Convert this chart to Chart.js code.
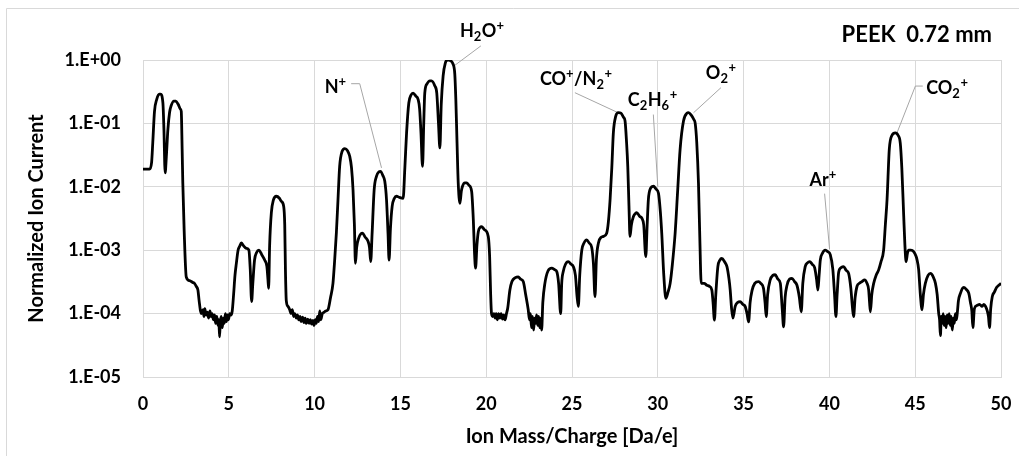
<!DOCTYPE html>
<html>
<head>
<meta charset="utf-8">
<title>PEEK 0.72 mm</title>
<script src="https://cdn.jsdelivr.net/npm/chart.js@4.4.0/dist/chart.umd.min.js"></script>
<style>
  html, body { margin: 0; padding: 0; background: #fff; }
  #wrap { width: 1019px; height: 456px; position: relative; }
</style>
</head>
<body>
<div id="wrap"><canvas id="spectrum" width="1019" height="456"></canvas></div>
<script>
// mass/charge [Da/e] and normalized ion current
const massCharge = [
  0.00, 0.38, 0.50, 0.57, 0.67, 0.80, 0.95, 1.02, 1.16, 1.22, 1.29, 1.36, 1.45, 1.55, 1.64, 1.80, 1.90, 2.05, 2.17, 2.23,
  2.28, 2.32, 2.40, 2.52, 2.71, 2.90, 3.00, 3.10, 3.20, 3.27, 3.34, 3.40, 3.50, 3.55, 3.60, 3.68, 3.75, 3.82, 3.90, 3.97,
  4.03, 4.10, 4.17, 4.23, 4.30, 4.37, 4.42, 4.46, 4.50, 4.56, 4.62, 4.68, 4.74, 4.80, 4.86, 4.92, 4.98, 5.05, 5.12, 5.20,
  5.28, 5.36, 5.44, 5.54, 5.63, 5.73, 5.85, 6.02, 6.17, 6.25, 6.33, 6.40, 6.50, 6.62, 6.76, 6.92, 7.09, 7.22, 7.28, 7.32,
  7.38, 7.48, 7.60, 7.77, 7.95, 8.06, 8.20, 8.26, 8.30, 8.35, 8.45, 8.55, 8.62, 8.70, 8.78, 8.85, 8.93, 9.00, 9.08, 9.15,
  9.22, 9.30, 9.38, 9.45, 9.52, 9.60, 9.68, 9.75, 9.83, 9.90, 9.97, 10.04, 10.10, 10.17, 10.24, 10.30, 10.36, 10.45, 10.55, 10.65,
  10.78, 10.93, 11.07, 11.17, 11.27, 11.36, 11.46, 11.60, 11.76, 11.92, 12.05, 12.15, 12.24, 12.32, 12.38, 12.45, 12.57, 12.70, 12.79, 12.95,
  13.12, 13.20, 13.27, 13.35, 13.47, 13.60, 13.75, 13.84, 13.98, 14.09, 14.19, 14.28, 14.34, 14.42, 14.52, 14.65, 14.77, 14.95, 15.16, 15.26,
  15.36, 15.49, 15.62, 15.74, 15.90, 16.03, 16.12, 16.20, 16.29, 16.36, 16.42, 16.55, 16.72, 16.81, 17.01, 17.12, 17.22, 17.30, 17.38, 17.49,
  17.62, 17.75, 17.85, 18.08, 18.17, 18.23, 18.30, 18.37, 18.47, 18.55, 18.62, 18.75, 18.86, 19.00, 19.15, 19.25, 19.32, 19.38, 19.46, 19.54,
  19.65, 19.73, 19.90, 20.12, 20.20, 20.26, 20.31, 20.38, 20.45, 20.52, 20.58, 20.65, 20.72, 20.80, 20.87, 20.95, 21.02, 21.10, 21.18, 21.25,
  21.38, 21.50, 21.70, 21.87, 22.00, 22.16, 22.30, 22.45, 22.52, 22.58, 22.64, 22.70, 22.76, 22.82, 22.88, 22.94, 23.00, 23.06, 23.12, 23.18,
  23.23, 23.30, 23.42, 23.60, 23.82, 24.00, 24.11, 24.22, 24.34, 24.40, 24.49, 24.62, 24.78, 24.95, 25.08, 25.20, 25.30, 25.37, 25.45, 25.57,
  25.70, 25.86, 26.00, 26.15, 26.25, 26.34, 26.42, 26.54, 26.70, 26.83, 27.02, 27.12, 27.22, 27.32, 27.41, 27.55, 27.70, 27.85, 28.00, 28.09,
  28.18, 28.25, 28.32, 28.38, 28.46, 28.58, 28.70, 28.77, 28.95, 29.07, 29.18, 29.30, 29.38, 29.45, 29.58, 29.74, 29.90, 30.04, 30.15, 30.23,
  30.35, 30.47, 30.60, 30.72, 30.85, 31.01, 31.15, 31.30, 31.50, 31.70, 31.79, 31.95, 32.10, 32.18, 32.27, 32.37, 32.45, 32.53, 32.70, 32.86,
  33.00, 33.15, 33.22, 33.30, 33.38, 33.50, 33.62, 33.73, 33.90, 34.03, 34.15, 34.22, 34.30, 34.38, 34.51, 34.65, 34.80, 34.95, 35.09, 35.20,
  35.29, 35.38, 35.49, 35.65, 35.87, 36.00, 36.16, 36.25, 36.32, 36.40, 36.55, 36.70, 36.84, 37.00, 37.14, 37.25, 37.33, 37.42, 37.53, 37.68,
  37.82, 37.97, 38.11, 38.25, 38.36, 38.45, 38.59, 38.72, 38.85, 39.00, 39.14, 39.25, 39.33, 39.40, 39.47, 39.60, 39.76, 39.90, 40.05, 40.20,
  40.30, 40.38, 40.45, 40.54, 40.68, 40.83, 40.98, 41.12, 41.25, 41.35, 41.41, 41.50, 41.61, 41.75, 41.90, 42.05, 42.19, 42.29, 42.34, 42.39,
  42.47, 42.58, 42.72, 42.87, 43.00, 43.16, 43.26, 43.36, 43.49, 43.65, 43.84, 44.00, 44.13, 44.22, 44.33, 44.40, 44.47, 44.55, 44.62, 44.75,
  44.91, 45.05, 45.11, 45.20, 45.30, 45.40, 45.48, 45.59, 45.75, 45.89, 46.05, 46.18, 46.28, 46.37, 46.42, 46.47, 46.52, 46.58, 46.63, 46.68,
  46.74, 46.80, 46.86, 46.92, 46.98, 47.04, 47.10, 47.16, 47.22, 47.28, 47.34, 47.40, 47.45, 47.52, 47.64, 47.75, 47.83, 47.98, 48.12, 48.22,
  48.30, 48.36, 48.45, 48.61, 48.75, 48.90, 49.00, 49.10, 49.20, 49.27, 49.33, 49.40, 49.49, 49.62, 49.75, 49.87, 50.00
];

const ionCurrent = [
  0.019, 0.019, 0.024, 0.05, 0.155, 0.24, 0.29, 0.29, 0.21, 0.08, 0.0166, 0.03, 0.08, 0.15, 0.19, 0.225, 0.224, 0.2, 0.17, 0.155,
  0.04, 0.0115, 0.002, 0.00038, 0.00033, 0.00031, 0.0003, 0.00027, 0.000235, 0.00016, 0.000114, 0.0001, 0.000115, 0.00009, 0.00012, 0.000095, 0.000105, 0.000085, 0.00011, 0.00009,
  0.0001, 0.00008, 0.000095, 0.00007, 0.00009, 0.000065, 0.00008, 0.000043, 0.00007, 0.00009, 0.00006, 0.000085, 0.00007, 0.0001, 0.000075, 0.000095, 0.00008, 0.0001, 0.000095, 0.00011,
  0.0002, 0.0004, 0.00062, 0.001, 0.00115, 0.0013, 0.00118, 0.00107, 0.001, 0.0005, 0.000155, 0.0003, 0.0007, 0.00092, 0.001, 0.00085, 0.0007, 0.00055, 0.00035, 0.00025,
  0.0012, 0.0039, 0.0062, 0.0071, 0.0066, 0.0059, 0.0049, 0.0025, 0.0005, 0.00016, 0.00013, 0.000115, 0.0001, 0.000115, 0.00009, 0.0001, 0.000085, 0.000095, 0.00008, 0.00009,
  0.000075, 0.000088, 0.000072, 0.000085, 0.00007, 0.000082, 0.00007, 0.00008, 0.000068, 0.000078, 0.000065, 0.00008, 0.00007, 0.00009, 0.000075, 0.00011, 0.00008, 0.0001, 0.000105, 0.00011,
  0.000115, 0.00018, 0.0003, 0.0007, 0.0019, 0.006, 0.021, 0.036, 0.04, 0.037, 0.03, 0.02, 0.0089, 0.0025, 0.00062, 0.0011, 0.00155, 0.00182, 0.00185, 0.0016,
  0.00137, 0.0011, 0.00066, 0.0018, 0.0089, 0.0145, 0.0172, 0.0175, 0.015, 0.0122, 0.0063, 0.0018, 0.0007, 0.0022, 0.0049, 0.0066, 0.0071, 0.0068, 0.0066, 0.02,
  0.071, 0.21, 0.28, 0.30, 0.27, 0.24, 0.17, 0.07, 0.021, 0.1, 0.3, 0.42, 0.47, 0.47, 0.39, 0.3, 0.1, 0.041, 0.2, 0.56,
  0.9, 1.0, 0.99, 0.85, 0.6, 0.24, 0.05, 0.0115, 0.0055, 0.0085, 0.0102, 0.0115, 0.0115, 0.0105, 0.0085, 0.003, 0.0009, 0.00052, 0.0012, 0.00196,
  0.0023, 0.00235, 0.0021, 0.00165, 0.0008, 0.0002, 0.0001, 0.00009, 0.0001, 0.000085, 0.0001, 0.00008, 0.0001, 0.000085, 0.0001, 0.000082, 0.000095, 0.00008, 0.0001, 0.00012,
  0.000235, 0.00032, 0.00037, 0.00038, 0.00035, 0.00032, 0.0002, 0.000115, 0.00008, 0.0001, 0.00006, 0.00009, 0.000055, 0.000085, 0.00007, 0.000095, 0.000065, 0.00009, 0.00006, 0.000085,
  0.000055, 0.00015, 0.0003, 0.00047, 0.00052, 0.00049, 0.00046, 0.0003, 0.0001, 0.0003, 0.00046, 0.0006, 0.00066, 0.0006, 0.00055, 0.0004, 0.00018, 0.00013, 0.0004, 0.001,
  0.0013, 0.00145, 0.0013, 0.0011, 0.0006, 0.000185, 0.0007, 0.0013, 0.0016, 0.00165, 0.00185, 0.0028, 0.0063, 0.02, 0.071, 0.13, 0.148, 0.145, 0.125, 0.11,
  0.05, 0.021, 0.005, 0.00165, 0.0025, 0.0034, 0.0038, 0.0039, 0.0034, 0.0032, 0.0025, 0.00079, 0.0025, 0.0063, 0.0095, 0.0102, 0.0092, 0.0079, 0.004, 0.00185,
  0.0004, 0.000174, 0.00022, 0.0003, 0.0006, 0.00185, 0.008, 0.039, 0.11, 0.145, 0.148, 0.135, 0.115, 0.1, 0.05, 0.0115, 0.0015, 0.0003, 0.0003, 0.00028,
  0.00027, 0.000235, 0.00015, 0.000079, 0.0002, 0.00055, 0.0007, 0.00074, 0.00065, 0.00055, 0.00035, 0.000235, 0.00012, 0.000085, 0.00013, 0.00015, 0.000155, 0.00014, 0.00013, 0.0001,
  0.000074, 0.00015, 0.00023, 0.0003, 0.00032, 0.0003, 0.00025, 0.00015, 0.00009, 0.0002, 0.00034, 0.0004, 0.00041, 0.00035, 0.0003, 0.00012, 0.000062, 0.00018, 0.00028, 0.00035,
  0.00036, 0.00032, 0.00028, 0.00018, 0.000107, 0.0003, 0.00055, 0.00063, 0.00066, 0.0006, 0.00053, 0.00035, 0.000235, 0.0004, 0.0007, 0.0009, 0.001, 0.00095, 0.00085, 0.0005,
  0.0002, 0.00009, 0.0002, 0.00045, 0.00053, 0.00055, 0.00048, 0.00043, 0.00025, 0.00012, 0.00009, 0.00018, 0.00027, 0.0003, 0.00032, 0.00034, 0.0003, 0.000235, 0.00015, 0.000107,
  0.0002, 0.0003, 0.0004, 0.00049, 0.00065, 0.001, 0.0025, 0.0063, 0.039, 0.065, 0.071, 0.065, 0.049, 0.02, 0.0035, 0.0012, 0.00066, 0.0009, 0.001, 0.001,
  0.00095, 0.0008, 0.0007, 0.0005, 0.0002, 0.000115, 0.0002, 0.0003, 0.0004, 0.00043, 0.00038, 0.0003, 0.0002, 0.0001, 0.00008, 0.000045, 0.00009, 0.00007, 0.0001, 0.000065,
  0.00009, 0.00006, 0.000095, 0.00007, 0.0001, 0.000065, 0.00009, 0.000055, 0.000085, 0.00007, 0.0001, 0.00008, 0.0001, 0.00016, 0.00021, 0.00025, 0.00026, 0.00024, 0.00021, 0.00015,
  0.00011, 0.00006, 0.00012, 0.000135, 0.00014, 0.00013, 0.00014, 0.00013, 0.00011, 0.00009, 0.00006, 0.00012, 0.000185, 0.00022, 0.00026, 0.00028, 0.0003
];

// y axis decades and their labels
const yTickValues = [1e-5, 1e-4, 1e-3, 1e-2, 1e-1, 1e0];
const yTickLabels = ['1.E-05', '1.E-04', '1.E-03', '1.E-02', '1.E-01', '1.E+00'];

// peak labels: text parts, label anchor (mass, current) and leader line in data units
const peakLabels = [
  { parts: [['N'], ['+', 'sup']], at: [10.59, 0.305], leader: [[12.13, 0.423], [12.63, 0.423], [13.90, 0.0199]] },
  { parts: [['H'], ['2', 'sub'], ['O'], ['+', 'sup']], at: [18.47, 2.29], leader: [[19.69, 1.67], [18.17, 0.824]] },
  { parts: [['CO'], ['+', 'sup'], ['/N'], ['2', 'sub'], ['+', 'sup']], at: [23.13, 0.398], leader: [[25.17, 0.305], [27.70, 0.147]] },
  { parts: [['C'], ['2', 'sub'], ['H'], ['6', 'sub'], ['+', 'sup']], at: [28.25, 0.187], leader: [[29.74, 0.138], [30.0, 0.0101]] },
  { parts: [['O'], ['2', 'sub'], ['+', 'sup']], at: [32.80, 0.495], leader: [[33.68, 0.366], [32.08, 0.147]] },
  { parts: [['Ar'], ['+', 'sup']], at: [38.84, 0.0104], leader: [[39.72, 0.0078], [40.01, 0.00104]] },
  { parts: [['CO'], ['2', 'sub'], ['+', 'sup']], at: [45.64, 0.286], leader: [[45.44, 0.388], [45.01, 0.388], [43.94, 0.071]] }
];

const FONT = 'Lato, "Open Sans", "DejaVu Sans", sans-serif';
const GRID = '#d9d9d9';

// draws a label made of normal / subscript / superscript pieces
function drawRichText(ctx, parts, x, y) {
    let cx = x;
    parts.forEach(([txt, kind]) => {
        if (kind === 'sub') {
            ctx.font = 'bold 13px ' + FONT;
            ctx.fillText(txt, cx, y + 4);
        } else if (kind === 'sup') {
            ctx.font = 'bold 13px ' + FONT;
            ctx.fillText(txt, cx, y - 7);
        } else {
            ctx.font = 'bold 18px ' + FONT;
            ctx.fillText(txt, cx, y);
        }
        cx += ctx.measureText(txt).width + (kind ? 0.5 : 0);
    });
}

const decorPlugin = {
    id: 'decor',
    beforeDraw(chart) {
        const ctx = chart.ctx;
        ctx.save();
        ctx.strokeStyle = GRID;
        ctx.lineWidth = 1;
        ctx.beginPath();
        ctx.moveTo(6.5, chart.height + 5);
        ctx.lineTo(6.5, 8.5);
        ctx.lineTo(chart.width + 5, 8.5);
        ctx.stroke();
        ctx.restore();
    },
    beforeDatasetsDraw(chart) {
        const { ctx, scales: { x, y } } = chart;
        ctx.save();
        ctx.strokeStyle = '#a6a6a6';
        ctx.lineWidth = 1;
        peakLabels.forEach(lbl => {
            ctx.beginPath();
            lbl.leader.forEach(([m, v], i) => {
                const px = x.getPixelForValue(m);
                const py = y.getPixelForValue(v);
                if (i === 0) ctx.moveTo(px, py); else ctx.lineTo(px, py);
            });
            ctx.stroke();
        });
        ctx.restore();
    },
    afterDraw(chart) {
        const { ctx, chartArea, scales: { x, y } } = chart;
        ctx.save();
        ctx.fillStyle = '#000';
        ctx.textBaseline = 'alphabetic';
        ctx.textAlign = 'left';
        peakLabels.forEach(lbl => {
            drawRichText(ctx, lbl.parts, x.getPixelForValue(lbl.at[0]), y.getPixelForValue(lbl.at[1]));
        });

        // sample label, top right
        ctx.font = 'bold 22px ' + FONT;
        ctx.textAlign = 'right';
        ctx.fillText('PEEK  0.72 mm', 992, 42);

        // axis titles
        ctx.font = 'bold 20px ' + FONT;
        ctx.textAlign = 'center';
        ctx.fillText('Ion Mass/Charge [Da/e]', (chartArea.left + chartArea.right) / 2, 443);
        ctx.translate(43, (chartArea.top + chartArea.bottom) / 2);
        ctx.rotate(-Math.PI / 2);
        ctx.fillText('Normalized Ion Current', 0, 0);
        ctx.restore();
    }
};

const points = massCharge.map((m, i) => ({ x: m, y: ionCurrent[i] }));

new Chart(document.getElementById('spectrum'), {
    type: 'line',
    data: {
        datasets: [{
            label: 'PEEK 0.72 mm',
            data: points,
            borderColor: '#000',
            borderWidth: 2.8,
            pointRadius: 0,
            cubicInterpolationMode: 'monotone',
            fill: false
        }]
    },
    options: {
        responsive: false,
        animation: false,
        devicePixelRatio: 1,
        layout: { padding: { top: 60, right: 18, bottom: 0, left: 0 } },
        plugins: {
            legend: { display: false },
            tooltip: { enabled: false },
            title: { display: false }
        },
        scales: {
            x: {
                type: 'linear',
                min: 0,
                max: 50,
                afterFit: scale => {
                    scale.height = 79;
                    scale.paddingLeft = 0;
                    scale.paddingRight = 0;
                },
                grid: { color: GRID, drawTicks: false },
                border: { display: true, color: GRID },
                ticks: {
                    stepSize: 5,
                    padding: 16,
                    color: '#000',
                    font: { family: FONT, size: 18, weight: 'bold' }
                }
            },
            y: {
                type: 'logarithmic',
                min: 1e-5,
                max: 1,
                afterFit: scale => { scale.width = 143; },
                afterBuildTicks: scale => { scale.ticks = yTickValues.map(v => ({ value: v })); },
                grid: { color: GRID, drawTicks: false },
                border: { display: true, color: GRID },
                ticks: {
                    padding: 22,
                    color: '#000',
                    font: { family: FONT, size: 18, weight: 'bold' },
                    callback: value => {
                        const idx = yTickValues.findIndex(v => Math.abs(Math.log10(v) - Math.log10(value)) < 1e-6);
                        return idx >= 0 ? yTickLabels[idx] : '';
                    }
                }
            }
        }
    },
    plugins: [decorPlugin]
});
</script>
</body>
</html>
